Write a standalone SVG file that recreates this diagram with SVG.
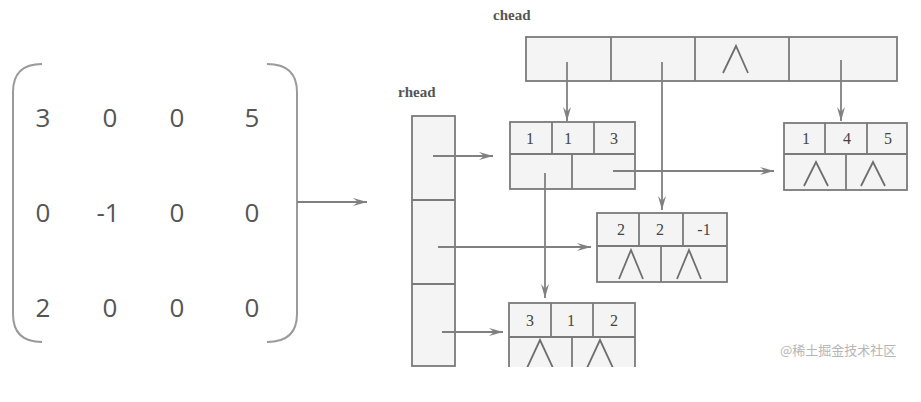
<svg xmlns="http://www.w3.org/2000/svg" width="921" height="402" viewBox="0 0 921 402">
<style>
.box{fill:#f4f4f4;stroke:#7a7a7a;stroke-width:1.8}
.ln{fill:none;stroke:#7a7a7a;stroke-width:1.8}
.nul{fill:none;stroke:#6e6e6e;stroke-width:1.8}
.num{font-family:"Liberation Serif","DejaVu Serif",serif;font-size:16px;fill:#444;text-anchor:middle}
.lbl{font-family:"Liberation Serif","DejaVu Serif",serif;font-size:15px;font-weight:bold;fill:#555}
.mx{font-family:"Open Sans","Noto Sans",sans-serif;font-size:26px;fill:#555;text-anchor:middle}
.br{fill:none;stroke:#9a9a9a;stroke-width:2}
.conn{fill:none;stroke:#808080;stroke-width:1.8}
</style>
<defs>
<marker id="ah" markerUnits="userSpaceOnUse" markerWidth="16" markerHeight="10" refX="14" refY="4" orient="auto">
<path d="M0,0 L14,4 L0,8 L5,4 Z" fill="#808080"/>
</marker>
<clipPath id="cut"><rect x="490" y="290" width="160" height="77"/></clipPath>
</defs>
<rect width="921" height="402" fill="#ffffff"/>

<g id="matrix">
<path class="br" d="M42,64 Q13,64 13,92 L13,314 Q13,342 42,342"/>
<path class="br" d="M267,64 Q297,64 297,92 L297,314 Q297,342 267,342"/>
<text class="mx" x="43" y="127">3</text>
<text class="mx" x="110" y="127">0</text>
<text class="mx" x="177" y="127">0</text>
<text class="mx" x="252" y="127">5</text>
<text class="mx" x="43" y="222">0</text>
<text class="mx" x="108" y="222">-1</text>
<text class="mx" x="177" y="222">0</text>
<text class="mx" x="252" y="222">0</text>
<text class="mx" x="43" y="317">2</text>
<text class="mx" x="110" y="317">0</text>
<text class="mx" x="177" y="317">0</text>
<text class="mx" x="252" y="317">0</text>
</g>

<g id="chead">
<text class="lbl" x="493" y="20">chead</text>
<rect class="box" x="526" y="37" width="371" height="44"/>
<line class="ln" x1="611" y1="37" x2="611" y2="81"/>
<line class="ln" x1="695" y1="37" x2="695" y2="81"/>
<line class="ln" x1="789" y1="37" x2="789" y2="81"/>
<polyline class="nul" points="723,73 736,46 748,73"/>
</g>

<g id="rhead">
<text class="lbl" x="398" y="97">rhead</text>
<rect class="box" x="412" y="116" width="43" height="250"/>
<line class="ln" x1="412" y1="200" x2="455" y2="200"/>
<line class="ln" x1="412" y1="284" x2="455" y2="284"/>
</g>

<g id="node113">
<rect class="box" x="510" y="122" width="125" height="67"/>
<line class="ln" x1="510" y1="154" x2="635" y2="154"/>
<line class="ln" x1="552" y1="122" x2="552" y2="154"/>
<line class="ln" x1="594" y1="122" x2="594" y2="154"/>
<line class="ln" x1="572" y1="154" x2="572" y2="189"/>
<text class="num" x="530" y="144">1</text>
<text class="num" x="568" y="144">1</text>
<text class="num" x="614" y="144">3</text>
</g>

<g id="node145">
<rect class="box" x="784" y="123" width="123" height="67"/>
<line class="ln" x1="784" y1="154" x2="907" y2="154"/>
<line class="ln" x1="825" y1="123" x2="825" y2="154"/>
<line class="ln" x1="867" y1="123" x2="867" y2="154"/>
<line class="ln" x1="846" y1="154" x2="846" y2="190"/>
<text class="num" x="806" y="144">1</text>
<text class="num" x="847" y="144">4</text>
<text class="num" x="888" y="144">5</text>
<polyline class="nul" points="804,186 816,162 828,186"/>
<polyline class="nul" points="861,186 873,162 885,186"/>
</g>

<g id="node22m1">
<rect class="box" x="597" y="213" width="130" height="69"/>
<line class="ln" x1="597" y1="246" x2="727" y2="246"/>
<line class="ln" x1="639" y1="213" x2="639" y2="246"/>
<line class="ln" x1="683" y1="213" x2="683" y2="246"/>
<line class="ln" x1="661" y1="246" x2="661" y2="282"/>
<text class="num" x="621" y="235">2</text>
<text class="num" x="660" y="235">2</text>
<text class="num" x="704" y="235">-1</text>
<polyline class="nul" points="619,279 631,250 643,279"/>
<polyline class="nul" points="677,279 689,250 701,279"/>
</g>

<g id="node312" clip-path="url(#cut)">
<rect class="box" x="509" y="303" width="126" height="80"/>
<line class="ln" x1="509" y1="337" x2="635" y2="337"/>
<line class="ln" x1="551" y1="303" x2="551" y2="337"/>
<line class="ln" x1="593" y1="303" x2="593" y2="337"/>
<line class="ln" x1="572" y1="337" x2="572" y2="383"/>
<text class="num" x="530" y="326">3</text>
<text class="num" x="571" y="326">1</text>
<text class="num" x="614" y="326">2</text>
<polyline class="nul" points="527,368 540,340 553,368"/>
<polyline class="nul" points="587,368 600,340 613,368"/>
</g>

<g id="connectors">
<line class="conn" x1="297" y1="202" x2="367" y2="202" marker-end="url(#ah)"/>
<line class="conn" x1="567" y1="62" x2="567" y2="121" marker-end="url(#ah)"/>
<line class="conn" x1="662" y1="62" x2="662" y2="210" marker-end="url(#ah)"/>
<line class="conn" x1="841" y1="60" x2="841" y2="121" marker-end="url(#ah)"/>
<line class="conn" x1="433" y1="156" x2="493" y2="156" marker-end="url(#ah)"/>
<line class="conn" x1="438" y1="247" x2="591" y2="247" marker-end="url(#ah)"/>
<line class="conn" x1="442" y1="332" x2="503" y2="332" marker-end="url(#ah)"/>
<line class="conn" x1="545" y1="173" x2="545" y2="298" marker-end="url(#ah)"/>
<line class="conn" x1="613" y1="171" x2="774" y2="171" marker-end="url(#ah)"/>
</g>

<text x="780" y="355" font-family="'Noto Sans CJK SC',sans-serif" font-size="13" fill="#b5b5b5">@稀土掘金技术社区</text>
</svg>
